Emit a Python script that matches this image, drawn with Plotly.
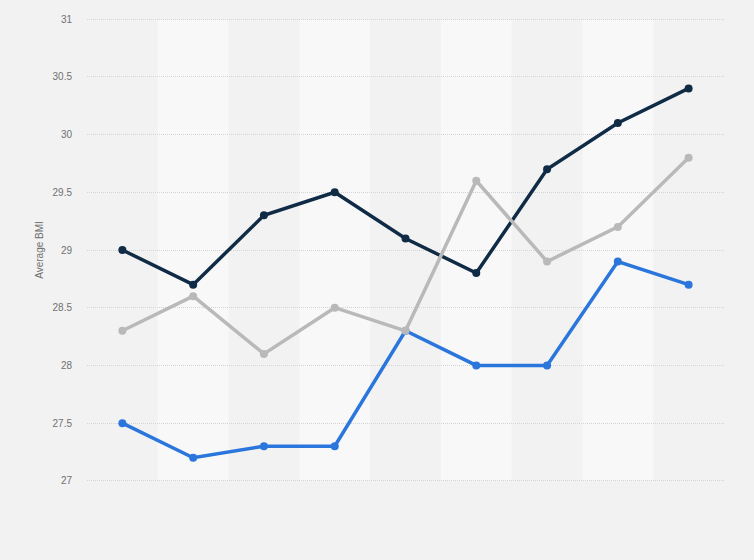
import plotly.graph_objects as go

categories = [0, 1, 2, 3, 4, 5, 6, 7, 8]
series_navy = [29.0, 28.7, 29.3, 29.5, 29.1, 28.8, 29.7, 30.1, 30.4]
series_gray = [28.3, 28.6, 28.1, 28.5, 28.3, 29.6, 28.9, 29.2, 29.8]
series_blue = [27.5, 27.2, 27.3, 27.3, 28.3, 28.0, 28.0, 28.9, 28.7]
y_ticks = [27, 27.5, 28, 28.5, 29, 29.5, 30, 30.5, 31]

fig = go.Figure()
for vals, color, name in [
    (series_blue, "#2a76dd", "Series 3"),
    (series_navy, "#102b45", "Series 1"),
    (series_gray, "#b9b9b9", "Series 2"),
]:
    fig.add_trace(go.Scatter(
        x=categories, y=vals, mode="lines+markers", name=name,
        line=dict(color=color, width=3.5),
        marker=dict(color=color, size=8),
    ))

shapes = []
for c in categories:
    if c % 2 == 1:
        shapes.append(dict(type="rect", xref="x", yref="y",
                           x0=c - 0.5, x1=c + 0.5, y0=27, y1=31,
                           fillcolor="#f8f8f8", line=dict(width=0), layer="below"))

fig.update_layout(
    width=754, height=560,
    margin=dict(l=87, r=30, t=18, b=78),
    paper_bgcolor="#f2f2f2", plot_bgcolor="#f2f2f2",
    showlegend=False,
    shapes=shapes,
    font=dict(family="Liberation Sans, Arial, sans-serif", color="#707070", size=10),
    xaxis=dict(range=[-0.5, 8.5], showticklabels=False, showgrid=False,
               zeroline=False, showline=False, ticks=""),
    yaxis=dict(range=[26.99, 31.01], tickvals=y_ticks,
               ticktext=[f"{v:g}" for v in y_ticks],
               showgrid=True, gridcolor="#d4d4d4", griddash="1px,1px", gridwidth=1,
               zeroline=False, showline=False, ticks="", ticklabelstandoff=14,
               title=dict(text="Average BMI", standoff=7,
                          font=dict(size=10, color="#707070")),
               tickfont=dict(size=10, color="#707070")),
)

fig.write_html("out.html", config={"displayModeBar": False},
               post_script="document.body.style.margin='0';document.body.style.background='#f2f2f2';")
